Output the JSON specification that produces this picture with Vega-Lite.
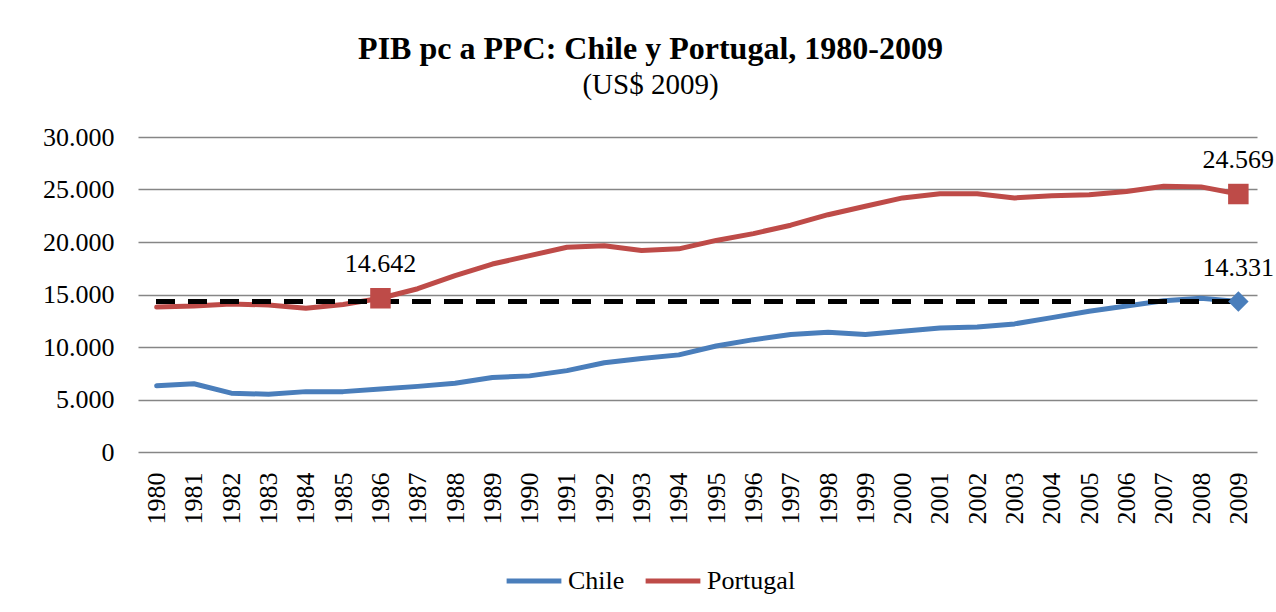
{
  "$schema": "https://vega.github.io/schema/vega-lite/v6.json",
  "width": 1119,
  "height": 315,
  "autosize": {"type": "none"},
  "padding": {"left": 138, "top": 137, "right": 19, "bottom": 160},
  "background": "white",
  "config": {
    "locale": {"number": {"decimal": ",", "thousands": ".", "grouping": [3], "currency": ["$", ""]}},
    "font": "Liberation Serif",
    "view": {"stroke": null}
  },
  "title": {
    "text": "PIB pc a PPC: Chile y Portugal, 1980-2009",
    "subtitle": "(US$ 2009)",
    "anchor": "middle",
    "font": "Liberation Serif",
    "fontSize": 32,
    "fontWeight": "bold",
    "color": "black",
    "subtitleFont": "Liberation Serif",
    "subtitleFontSize": 29,
    "subtitleColor": "black",
    "subtitlePadding": 5,
    "offset": 23,
    "dx": -47
  },
  "data": {
    "values": [
      {"year": 1980, "country": "Chile", "value": 6300},
      {"year": 1981, "country": "Chile", "value": 6500},
      {"year": 1982, "country": "Chile", "value": 5600},
      {"year": 1983, "country": "Chile", "value": 5500},
      {"year": 1984, "country": "Chile", "value": 5750},
      {"year": 1985, "country": "Chile", "value": 5750},
      {"year": 1986, "country": "Chile", "value": 6000},
      {"year": 1987, "country": "Chile", "value": 6250},
      {"year": 1988, "country": "Chile", "value": 6550},
      {"year": 1989, "country": "Chile", "value": 7100},
      {"year": 1990, "country": "Chile", "value": 7250},
      {"year": 1991, "country": "Chile", "value": 7750},
      {"year": 1992, "country": "Chile", "value": 8500},
      {"year": 1993, "country": "Chile", "value": 8900},
      {"year": 1994, "country": "Chile", "value": 9250},
      {"year": 1995, "country": "Chile", "value": 10100},
      {"year": 1996, "country": "Chile", "value": 10700},
      {"year": 1997, "country": "Chile", "value": 11200},
      {"year": 1998, "country": "Chile", "value": 11400},
      {"year": 1999, "country": "Chile", "value": 11200},
      {"year": 2000, "country": "Chile", "value": 11500},
      {"year": 2001, "country": "Chile", "value": 11800},
      {"year": 2002, "country": "Chile", "value": 11900},
      {"year": 2003, "country": "Chile", "value": 12200},
      {"year": 2004, "country": "Chile", "value": 12800},
      {"year": 2005, "country": "Chile", "value": 13400},
      {"year": 2006, "country": "Chile", "value": 13900},
      {"year": 2007, "country": "Chile", "value": 14400},
      {"year": 2008, "country": "Chile", "value": 14650},
      {"year": 2009, "country": "Chile", "value": 14331},
      {"year": 1980, "country": "Portugal", "value": 13800},
      {"year": 1981, "country": "Portugal", "value": 13900},
      {"year": 1982, "country": "Portugal", "value": 14100},
      {"year": 1983, "country": "Portugal", "value": 14000},
      {"year": 1984, "country": "Portugal", "value": 13700},
      {"year": 1985, "country": "Portugal", "value": 14050},
      {"year": 1986, "country": "Portugal", "value": 14642},
      {"year": 1987, "country": "Portugal", "value": 15550},
      {"year": 1988, "country": "Portugal", "value": 16800},
      {"year": 1989, "country": "Portugal", "value": 17900},
      {"year": 1990, "country": "Portugal", "value": 18700},
      {"year": 1991, "country": "Portugal", "value": 19500},
      {"year": 1992, "country": "Portugal", "value": 19650},
      {"year": 1993, "country": "Portugal", "value": 19200},
      {"year": 1994, "country": "Portugal", "value": 19350},
      {"year": 1995, "country": "Portugal", "value": 20150},
      {"year": 1996, "country": "Portugal", "value": 20800},
      {"year": 1997, "country": "Portugal", "value": 21600},
      {"year": 1998, "country": "Portugal", "value": 22600},
      {"year": 1999, "country": "Portugal", "value": 23400},
      {"year": 2000, "country": "Portugal", "value": 24200},
      {"year": 2001, "country": "Portugal", "value": 24600},
      {"year": 2002, "country": "Portugal", "value": 24600},
      {"year": 2003, "country": "Portugal", "value": 24200},
      {"year": 2004, "country": "Portugal", "value": 24400},
      {"year": 2005, "country": "Portugal", "value": 24500},
      {"year": 2006, "country": "Portugal", "value": 24800},
      {"year": 2007, "country": "Portugal", "value": 25300},
      {"year": 2008, "country": "Portugal", "value": 25250},
      {"year": 2009, "country": "Portugal", "value": 24569}
    ]
  },
  "encoding": {
    "x": {
      "field": "year",
      "type": "ordinal",
      "scale": {"type": "point", "padding": 0.5},
      "axis": {
        "title": null,
        "labelAngle": -90,
        "labelFont": "Liberation Serif",
        "labelFontSize": 26,
        "labelColor": "black",
        "labelPadding": 20,
        "ticks": false,
        "domain": false,
        "grid": false
      }
    },
    "y": {
      "field": "value",
      "type": "quantitative",
      "scale": {"domain": [0, 30000]},
      "axis": {
        "title": null,
        "values": [0, 5000, 10000, 15000, 20000, 25000, 30000],
        "format": ",.0f",
        "labelFont": "Liberation Serif",
        "labelFontSize": 26,
        "labelColor": "black",
        "labelPadding": 24,
        "ticks": false,
        "domain": false,
        "grid": true,
        "gridColor": "#868686",
        "gridWidth": 1.5
      }
    }
  },
  "layer": [
    {
      "mark": {"type": "line", "strokeWidth": 5, "strokeJoin": "round", "strokeCap": "round"},
      "encoding": {
        "color": {
          "field": "country",
          "type": "nominal",
          "scale": {"domain": ["Chile", "Portugal"], "range": ["#4A7EBB", "#BE4B48"]},
          "legend": {
            "title": null,
            "orient": "none",
            "direction": "horizontal",
            "legendX": 366,
            "legendY": 414,
            "symbolType": "stroke",
            "symbolStrokeWidth": 5,
            "symbolSize": 3000,
            "labelFont": "Liberation Serif",
            "labelFontSize": 26,
            "labelColor": "black",
            "labelOffset": 4,
            "columnPadding": 10
          }
        }
      }
    },
    {
      "mark": {"type": "rule", "color": "black", "strokeWidth": 4, "strokeDash": [18, 14]},
      "encoding": {
        "x": {"datum": 1980},
        "x2": {"datum": 2009},
        "y": {"datum": 14331}
      }
    },
    {
      "transform": [{"filter": "(datum.country == 'Portugal' && (datum.year == 1986 || datum.year == 2009))"}],
      "mark": {"type": "point", "shape": "square", "filled": true, "size": 420, "color": "#BE4B48", "opacity": 1},
      "encoding": {}
    },
    {
      "transform": [{"filter": "datum.country == 'Chile' && datum.year == 2009"}],
      "mark": {"type": "point", "shape": "diamond", "filled": true, "size": 420, "color": "#4A7EBB", "opacity": 1},
      "encoding": {}
    },
    {
      "transform": [{"filter": "(datum.country == 'Portugal' && (datum.year == 1986 || datum.year == 2009)) || (datum.country == 'Chile' && datum.year == 2009)"}],
      "mark": {"type": "text", "font": "Liberation Serif", "fontSize": 26, "color": "black", "dy": -34, "align": "center"},
      "encoding": {
        "text": {"field": "value", "type": "quantitative", "format": ",.0f"}
      }
    }
  ]
}
